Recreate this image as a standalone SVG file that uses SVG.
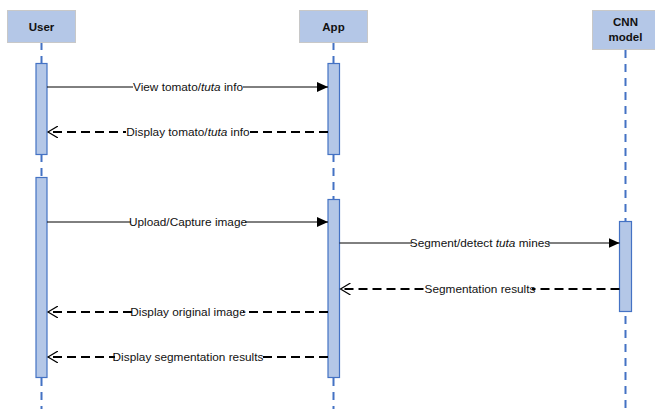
<svg xmlns="http://www.w3.org/2000/svg" width="655" height="409" viewBox="0 0 655 409">
<defs>
<marker id="filled" markerWidth="12" markerHeight="10" refX="11" refY="5" orient="auto" markerUnits="userSpaceOnUse">
<path d="M0,0 L11,5 L0,10 Z" fill="#000"/>
</marker>
<marker id="open" markerWidth="12" markerHeight="12" refX="10" refY="6" orient="auto" markerUnits="userSpaceOnUse">
<path d="M0,0 L10,6 L0,12" fill="none" stroke="#000" stroke-width="1.2"/>
</marker>
</defs>
<style>
.head{fill:#b4c7e7;stroke:#c8c8c8;stroke-width:1}
.htxt{font-family:"Liberation Sans",Arial,sans-serif;font-weight:bold;font-size:11.5px;fill:#111;text-anchor:middle}
.life{stroke:#4472c4;stroke-width:2;stroke-dasharray:8,6;fill:none}
.act{fill:#b4c7e7;stroke:#4472c4;stroke-width:1.2}
.sync{stroke:#000;stroke-width:1;fill:none;marker-end:url(#filled)}
.ret{stroke:#000;stroke-width:2;stroke-dasharray:9,5;fill:none}
.bg{fill:#fff}
.lbl{font-family:"Liberation Sans",Arial,sans-serif;font-size:11.8px;fill:#111;text-anchor:middle}
</style>
<rect width="655" height="409" fill="#fff"/>
<g id="lifelines">
<line class="life" x1="41.5" y1="42" x2="41.5" y2="409"/>
<line class="life" x1="333.5" y1="42" x2="333.5" y2="409"/>
<line class="life" x1="625.5" y1="50" x2="625.5" y2="409"/>
</g>
<g id="user">
<rect class="head" x="7.5" y="10.5" width="68" height="32"/>
<text class="htxt" x="41.5" y="31">User</text>
</g>
<g id="app">
<rect class="head" x="299.5" y="10.5" width="68" height="32"/>
<text class="htxt" x="333.5" y="31">App</text>
</g>
<g id="cnn">
<rect class="head" x="592.5" y="10.5" width="66" height="39"/>
<text class="htxt" x="625.5" y="26">CNN</text>
<text class="htxt" x="625.5" y="41">model</text>
</g>
<g id="activations">
<rect class="act" x="36" y="63.5" width="11" height="91"/>
<rect class="act" x="36" y="177.5" width="11" height="200"/>
<rect class="act" x="328" y="63.5" width="11.5" height="91"/>
<rect class="act" x="328" y="199.5" width="11.5" height="178"/>
<rect class="act" x="619.5" y="221.5" width="12" height="90"/>
</g>
<g id="connectors">
<line class="sync" x1="47" y1="87" x2="328" y2="87"/>
<line class="ret" x1="328" y1="132" x2="48" y2="132" marker-end="url(#open)"/>
<line class="sync" x1="47" y1="222" x2="328" y2="222"/>
<line class="sync" x1="339.5" y1="243" x2="619.5" y2="243"/>
<line class="ret" x1="619.5" y1="289" x2="340.5" y2="289" marker-end="url(#open)"/>
<line class="ret" x1="328" y1="312" x2="48" y2="312" marker-end="url(#open)"/>
<line class="ret" x1="328" y1="357" x2="48" y2="357" marker-end="url(#open)"/>
</g>
<g id="labels">
<rect class="bg" x="133" y="81" width="110" height="12"/>
<text class="lbl" x="188" y="91">View tomato/<tspan font-style="italic">tuta</tspan> info</text>
<rect class="bg" x="126" y="126" width="124" height="12"/>
<text class="lbl" x="188" y="136">Display tomato/<tspan font-style="italic">tuta</tspan> info</text>
<rect class="bg" x="131" y="216" width="114" height="12"/>
<text class="lbl" x="188" y="226">Upload/Capture image</text>
<rect class="bg" x="412" y="237" width="136" height="12"/>
<text class="lbl" x="480" y="247">Segment/detect <tspan font-style="italic">tuta</tspan> mines</text>
<rect class="bg" x="428" y="283" width="104" height="12"/>
<text class="lbl" x="480" y="293">Segmentation results</text>
<rect class="bg" x="133" y="306" width="110" height="12"/>
<text class="lbl" x="188" y="316">Display original image</text>
<rect class="bg" x="115" y="351" width="146" height="12"/>
<text class="lbl" x="188" y="361">Display segmentation results</text>
</g>
</svg>
